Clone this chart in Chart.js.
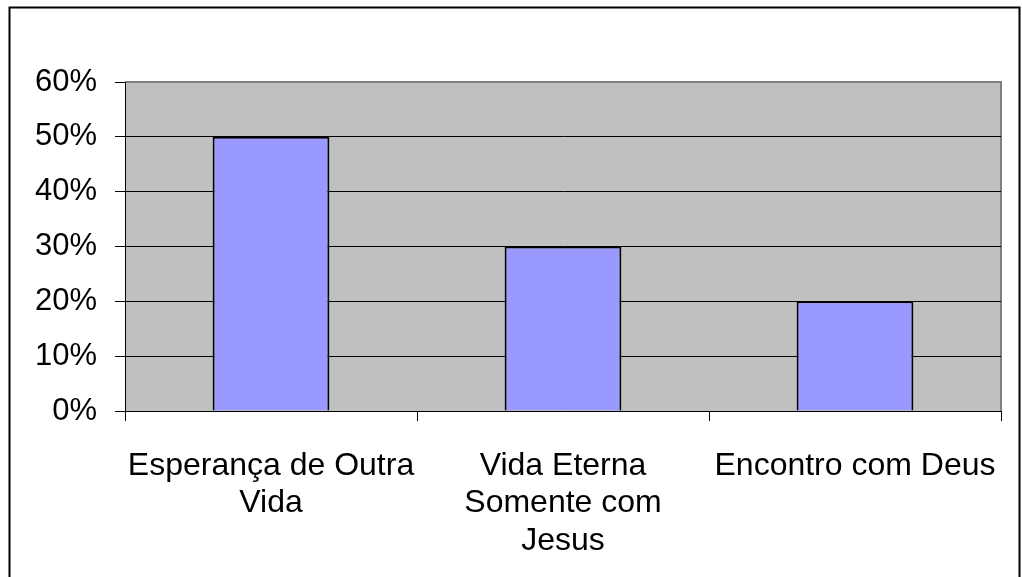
<!DOCTYPE html>
<html>
<head>
<meta charset="utf-8">
<script src="https://cdn.jsdelivr.net/npm/chart.js@4"></script>
<style>
html,body{margin:0;padding:0;background:#fff;}
#wrap{width:1022px;height:577px;position:relative;}
</style>
</head>
<body>
<div id="wrap"><canvas id="c" width="1022" height="577"></canvas></div>
<script>
const categories = [["Esperança de Outra", "Vida"], ["Vida Eterna", "Somente com", "Jesus"], ["Encontro com Deus"]];
const values = [50, 30, 20];
const yTicks = [0, 10, 20, 30, 40, 50, 60];

const bgPlugin = {
  id: 'bg',
  beforeDraw(chart) {
    const ctx = chart.ctx;
    const a = chart.chartArea;
    ctx.save();
    ctx.fillStyle = '#fff';
    ctx.fillRect(0, 0, chart.width, chart.height);
    ctx.strokeStyle = '#000';
    ctx.lineWidth = 2;
    ctx.beginPath();
    ctx.moveTo(9.5, 600);
    ctx.lineTo(9.5, 7.5);
    ctx.lineTo(1019.5, 7.5);
    ctx.lineTo(1019.5, 600);
    ctx.stroke();
    ctx.fillStyle = '#C0C0C0';
    ctx.fillRect(a.left, a.top, a.right - a.left, a.bottom - a.top);
    ctx.strokeStyle = '#808080';
    ctx.lineWidth = 2;
    ctx.beginPath();
    ctx.moveTo(a.left, a.top);
    ctx.lineTo(a.right, a.top);
    ctx.lineTo(a.right, a.bottom);
    ctx.stroke();
    ctx.restore();
  }
};

new Chart(document.getElementById('c'), {
  type: 'bar',
  data: {
    labels: categories,
    datasets: [{
      data: values,
      backgroundColor: '#9999FF',
      borderColor: '#000000',
      borderWidth: 2,
      barPercentage: 0.4,
      categoryPercentage: 1.0
    }]
  },
  options: {
    responsive: false,
    animation: false,
    devicePixelRatio: 1,
    layout: { padding: { left: 0, top: 82, right: 21, bottom: 0 } },
    plugins: { legend: { display: false }, tooltip: { enabled: false } },
    scales: {
      y: {
        min: 0, max: 60,
        afterFit(s) { s.width = 125; s.paddingTop = 0; s.paddingBottom = 0; },
        afterBuildTicks(s) { s.ticks = yTicks.map(v => ({ value: v })); },
        ticks: {
          color: '#000',
          padding: 18,
          font: { family: 'Liberation Sans, Arial, sans-serif', size: 31 },
          callback: v => v + '%'
        },
        grid: {
          color: ctx => (ctx.tick && ctx.tick.value === 60) ? '#808080' : '#000000',
          lineWidth: 1,
          tickLength: 10,
          tickColor: '#000'
        },
        border: { display: true, color: '#000', width: 1 }
      },
      x: {
        afterFit(s) { s.height = 166; s.paddingLeft = 0; s.paddingRight = 0; },
        ticks: {
          color: '#000',
          padding: 26,
          maxRotation: 0,
          autoSkip: false,
          font: { family: 'Liberation Sans, Arial, sans-serif', size: 32, lineHeight: 1.18 }
        },
        grid: {
          drawOnChartArea: false,
          drawTicks: true,
          tickLength: 10,
          color: '#000',
          offset: true
        },
        border: { display: true, color: '#000', width: 1 }
      }
    }
  },
  plugins: [bgPlugin]
});
</script>
</body>
</html>
